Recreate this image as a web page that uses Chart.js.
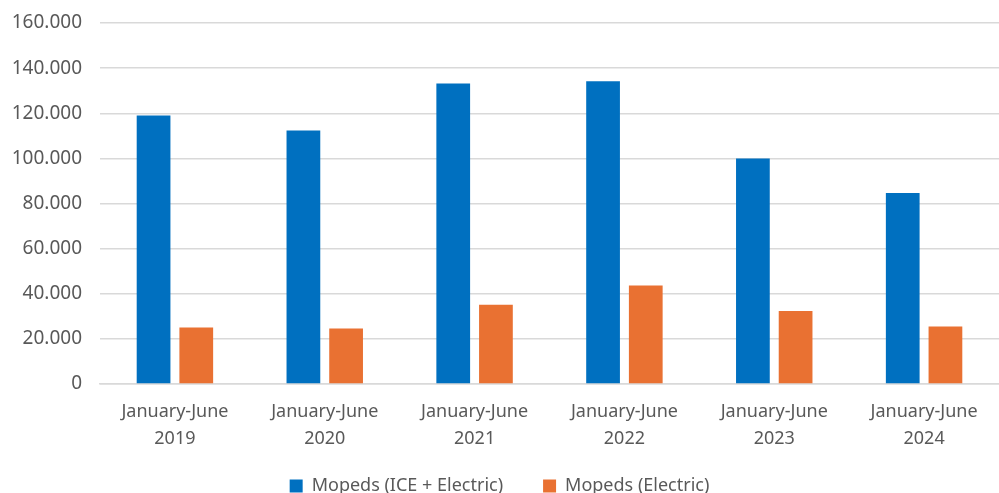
<!DOCTYPE html>
<html lang="en">
  <head>
    <meta charset="UTF-8" />
    <title>Mopeds January-June</title>
    <style>
    body {
      margin: 0;
      background-color: #ffffff;
    }
    #wrap {
      width: 999px;
      height: 493px;
    }
    </style>
    <script src="https://cdn.jsdelivr.net/npm/chart.js@4/dist/chart.umd.min.js"></script>
  </head>
  <body>
    <div id="wrap"><canvas id="chart"></canvas></div>

    <script>
      // chart data
      const periods = ['January-June', 'January-June', 'January-June', 'January-June', 'January-June', 'January-June'];
      const years = ['2019', '2020', '2021', '2022', '2023', '2024'];
      const mopedsAll = [119000, 112400, 133200, 134200, 99900, 84700];
      const mopedsElectric = [25000, 24600, 35100, 43700, 32400, 25500];
      const seriesNames = ['Mopeds (ICE + Electric)', 'Mopeds (Electric)'];

      const labels = years.map((y, i) => [periods[i], y]);

      // 160000 -> 160.000
      function fmt(v) {
        return String(v).replace(/\B(?=(\d{3})+(?!\d))/g, '.');
      }

      const ctx = document.getElementById('chart').getContext('2d');
      const myChart = new Chart(ctx, {
        type: 'bar',
        data: {
          labels: labels,
          datasets: [{
            label: seriesNames[0],
            data: mopedsAll,
            backgroundColor: '#0070C0'
          },
          {
            label: seriesNames[1],
            data: mopedsElectric,
            backgroundColor: '#E97132'
          }]
        },
        options: {
          responsive: true,
          maintainAspectRatio: false,
          animation: false,
          layout: {
            padding: { left: 0, right: 0, top: 23, bottom: -12 }
          },
          datasets: {
            bar: {
              categoryPercentage: 0.57,
              barPercentage: 0.79
            }
          },
          scales: {
            x: {
              grid: { display: false },
              border: { color: '#d9d9d9', width: 1.5 },
              afterFit: s => {
                s.paddingLeft = 0;
                s.paddingRight = 0;
                s.height -= 21; // legend padding below makes up for this
                s._computeLabelArea = () => undefined; // don't clip the year line
              },
              ticks: {
                color: '#595959',
                font: { family: 'Noto Sans', size: 18, lineHeight: 1.5 },
                padding: 6,
                maxRotation: 0
              }
            },
            y: {
              min: 0,
              max: 160000,
              grid: { color: '#d9d9d9', lineWidth: 1.5, drawTicks: false },
              border: { display: false },
              afterFit: s => {
                s.width = 100;
                s.paddingTop = 0;
                s.paddingBottom = 0;
              },
              ticks: {
                stepSize: 20000,
                color: '#595959',
                font: { family: 'Noto Sans', size: 19 },
                padding: 18,
                callback: v => fmt(v)
              }
            }
          },
          plugins: {
            legend: {
              position: 'bottom',
              labels: {
                color: '#595959',
                font: { family: 'Noto Sans', size: 18 },
                boxWidth: 13,
                boxHeight: 13,
                padding: 40
              }
            },
            tooltip: { enabled: false }
          }
        }
      });
    </script>
  </body>
</html>
